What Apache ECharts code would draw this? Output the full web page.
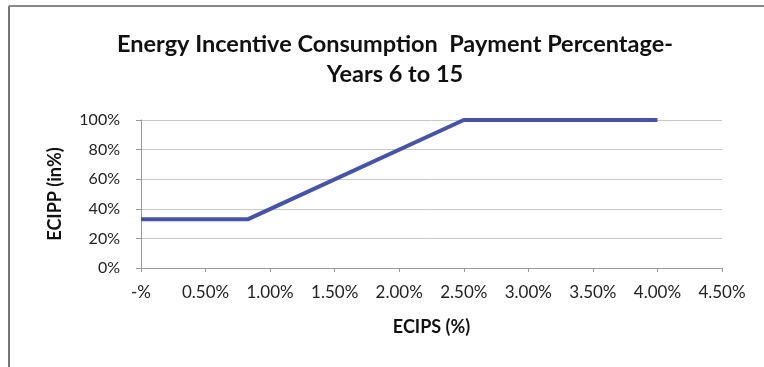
<!DOCTYPE html>
<html>
<head>
<meta charset="utf-8">
<script src="https://cdn.jsdelivr.net/npm/echarts@6/dist/echarts.min.js"></script>
<style>
  html, body { margin: 0; padding: 0; background: #fff; }
  #chart { width: 764px; height: 367px; }
</style>
</head>
<body>
<div id="chart"></div>
<script>
// ECIPS (%) on x, ECIPP (%) on y
const ecips = [0, 0.83, 2.5, 4.0];
const ecipp = [33, 33, 100, 100];
const xTicks = [0, 0.5, 1, 1.5, 2, 2.5, 3, 3.5, 4, 4.5];
const yTicks = [0, 20, 40, 60, 80, 100];

const font = 'Lato, "Open Sans", sans-serif';
const chart = echarts.init(document.getElementById('chart'));

chart.setOption({
  animation: false,
  backgroundColor: '#fff',
  textStyle: { fontFamily: font },
  title: {
    text: 'Energy Incentive Consumption  Payment Percentage-\nYears 6 to 15',
    left: 390,
    top: 24,
    textAlign: 'center',
    textStyle: { fontSize: 23.5, fontWeight: 'bold', color: '#111', lineHeight: 30, fontFamily: font }
  },
  grid: { left: 141, right: 42, top: 120, bottom: 99 },
  xAxis: {
    type: 'value',
    min: xTicks[0],
    max: xTicks[xTicks.length - 1],
    interval: 0.5,
    name: 'ECIPS (%)',
    nameLocation: 'middle',
    nameGap: 50,
    nameTextStyle: { fontSize: 18, fontWeight: 'bold', color: '#111' },
    axisLine: { show: true, onZero: false, lineStyle: { color: '#999', width: 1 } },
    axisTick: { show: true, length: 4, lineStyle: { color: '#999' } },
    splitLine: { show: false },
    axisLabel: {
      color: '#222',
      fontSize: 17,
      margin: 16,
      formatter: (v) => v === 0 ? '-%' : v.toFixed(2) + '%'
    }
  },
  yAxis: {
    type: 'value',
    min: yTicks[0],
    max: yTicks[yTicks.length - 1],
    interval: 20,
    name: 'ECIPP (in%)',
    nameLocation: 'middle',
    nameGap: 77,
    nameTextStyle: { fontSize: 18, fontWeight: 'bold', color: '#111' },
    axisLine: { show: true, lineStyle: { color: '#999', width: 1 } },
    axisTick: { show: true, length: 5, lineStyle: { color: '#999' } },
    splitLine: { show: true, lineStyle: { color: '#c8c8c8', width: 1 } },
    axisLabel: {
      color: '#222',
      fontSize: 16,
      margin: 21,
      formatter: (v) => v + '%'
    }
  },
  series: [{
    type: 'line',
    data: ecips.map((x, i) => [x, ecipp[i]]),
    symbol: 'none',
    lineStyle: { color: '#4553aa', width: 4 }
  }],
  graphic: [
    {
      type: 'line',
      shape: { x1: 9, y1: 6, x2: 9, y2: 367 },
      style: { stroke: '#777', lineWidth: 2 }
    },
    {
      type: 'line',
      shape: { x1: 9, y1: 6, x2: 764, y2: 6 },
      style: { stroke: '#888', lineWidth: 2 }
    }
  ]
});
</script>
</body>
</html>
